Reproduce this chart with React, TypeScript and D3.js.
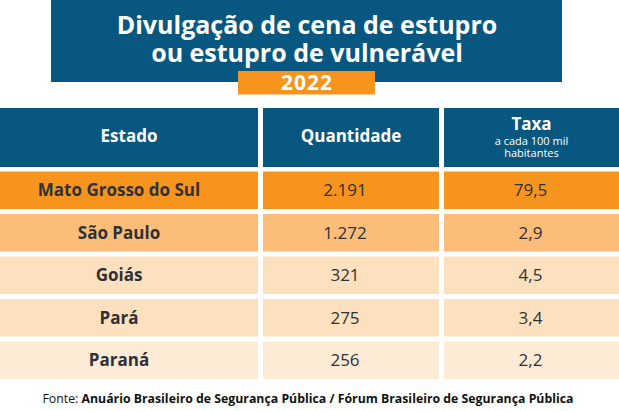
import React from "react";
import * as d3 from "d3";

const titleLines = ["Divulgação de cena de estupro", "ou estupro de vulnerável"];
const year = "2022";
const columns = ["Estado", "Quantidade", "Taxa"];
const taxaSub = ["a cada 100 mil", "habitantes"];
const states = ["Mato Grosso do Sul", "São Paulo", "Goiás", "Pará", "Paraná"];
const quantities = [2191, 1272, 321, 275, 256];
const rates = [79.5, 2.9, 4.5, 3.4, 2.2];
const sourceLabel = "Fonte: ";
const sourceText = "Anuário Brasileiro de Segurança Pública / Fórum Brasileiro de Segurança Pública";

const W = 619;
const H = 411;
const FONT = "'Open Sans', sans-serif";
const BLUE = "#075780";
const ORANGE = "#f7941e";
const TEXT = "#2e3138";
const rowColors = ["#f7941e", "#fbbd79", "#fde0bd", "#fde0bd", "#fdebd6"];

const ptBR = d3.formatLocale({ decimal: ",", thousands: ".", grouping: [3], currency: ["R$", ""] });
const fmtQty = ptBR.format(",d");
const fmtRate = ptBR.format(",.1f");

// column left edges and widths
const colX = [0, 263, 444];
const colW = [258, 176, 175];
const dataOffset = [-10, -6, -1];

export default function App() {
  const y = d3.scaleBand<string>().domain(states).range([171.5, 379]).paddingInner(0.118);

  return (
    <svg width={W} height={H} style={{ position: "absolute", left: 0, top: 0, background: "#fff" }} fontFamily={FONT}>
      {/* title */}
      <rect x={51} y={0} width={511} height={82} fill={BLUE} />
      {titleLines.map((t, i) => (
        <text key={t} x={307} y={25 + i * 28} dy="0.35em" textAnchor="middle" fill="#fff" fontSize={25} fontWeight={700}>
          {t}
        </text>
      ))}
      <rect x={238} y={71} width={137} height={23.5} fill={ORANGE} />
      <text x={307} y={83} dy="0.35em" textAnchor="middle" fill="#fff" fontSize={21} fontWeight={700} letterSpacing={1}>
        {year}
      </text>

      {/* header */}
      {columns.map((c, i) => (
        <g key={c}>
          <rect x={colX[i]} y={108} width={colW[i]} height={59} fill={BLUE} />
          {c === "Taxa" ? (
            <>
              <text x={colX[i] + colW[i] / 2} y={124} dy="0.35em" textAnchor="middle" fill="#fff" fontSize={17} fontWeight={700}>
                {c}
              </text>
              {taxaSub.map((s, j) => (
                <text key={s} x={colX[i] + colW[i] / 2} y={141.5 + j * 11.5} dy="0.35em" textAnchor="middle" fill="#fff" fontSize={11}>
                  {s}
                </text>
              ))}
            </>
          ) : (
            <text x={colX[i] + colW[i] / 2} y={136} dy="0.35em" textAnchor="middle" fill="#fff" fontSize={17} fontWeight={700}>
              {c}
            </text>
          )}
        </g>
      ))}

      {/* rows */}
      {states.map((s, r) => {
        const cells = [s, fmtQty(quantities[r]), fmtRate(rates[r])];
        const cy = (y(s) as number) + y.bandwidth() / 2;
        return (
          <g key={s}>
            {cells.map((v, i) => (
              <g key={i}>
                <rect x={colX[i]} y={y(s)} width={colW[i]} height={y.bandwidth()} fill={rowColors[r]} />
                <text
                  x={colX[i] + colW[i] / 2 + dataOffset[i]}
                  y={cy}
                  dy="0.35em"
                  textAnchor="middle"
                  fill={TEXT}
                  fontSize={17}
                  fontWeight={i === 0 ? 700 : 400}
                >
                  {v}
                </text>
              </g>
            ))}
          </g>
        );
      })}

      {/* source */}
      <text x={308} y={399} dy="0.35em" textAnchor="middle" fill="#111" fontSize={12.3}>
        <tspan>{sourceLabel}</tspan>
        <tspan fontWeight={700}>{sourceText}</tspan>
      </text>
    </svg>
  );
}
